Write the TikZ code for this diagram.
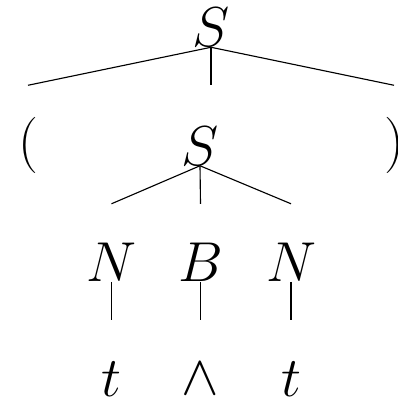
\RequirePackage{fix-cm}
\documentclass[tikz,border=0pt]{standalone}
\usepackage{amsmath,amssymb}
\usetikzlibrary{positioning,calc}

\begin{document}
\begin{tikzpicture}[x=0.025cm, y=-0.025cm, line width=0.8pt]
        \tikzstyle{sym}=[inner sep=0pt, font=\fontsize{40}{44}\selectfont]
        \useasboundingbox (0,0) rectangle (398,398);
        % rows of the tree
        \node[sym] (top)    at (211,27.5) {$S$};
        \node[sym] (lpar)   at (28,145)   {$($};
        \node[sym] (inner)  at (200,146)  {$S$};
        \node[sym] (rpar)   at (394,145)  {$)$};
        \node[sym] (nl)     at (111.5,262) {$N$};
        \node[sym] (bop)    at (200.5,262) {$B$};
        \node[sym] (nr)     at (291,262)  {$N$};
        \node[sym] (tl)     at (111.5,379) {$t$};
        \node[sym] (wedge)  at (200.5,379) {$\wedge$};
        \node[sym] (tr)     at (291,379)  {$t$};
        % branches
        \draw (top.south) -- ($(top.south -| lpar)+(0,38)$);
        \draw (top.south) -- ($(top.south)+(0,38)$);
        \draw (top.south) -- ($(top.south -| rpar)+(0,38)$);
        \draw (inner.south) -- ($(inner.south -| nl)+(0,38)$);
        \draw (inner.south) -- ($(inner.south -| bop)+(0,38)$);
        \draw (inner.south) -- ($(inner.south -| nr)+(0,38)$);
        \draw (nl.south) -- ($(nl.south)+(0,38)$);
        \draw (bop.south) -- ($(bop.south)+(0,38)$);
        \draw (nr.south) -- ($(nr.south)+(0,38)$);
\end{tikzpicture}
\end{document}
